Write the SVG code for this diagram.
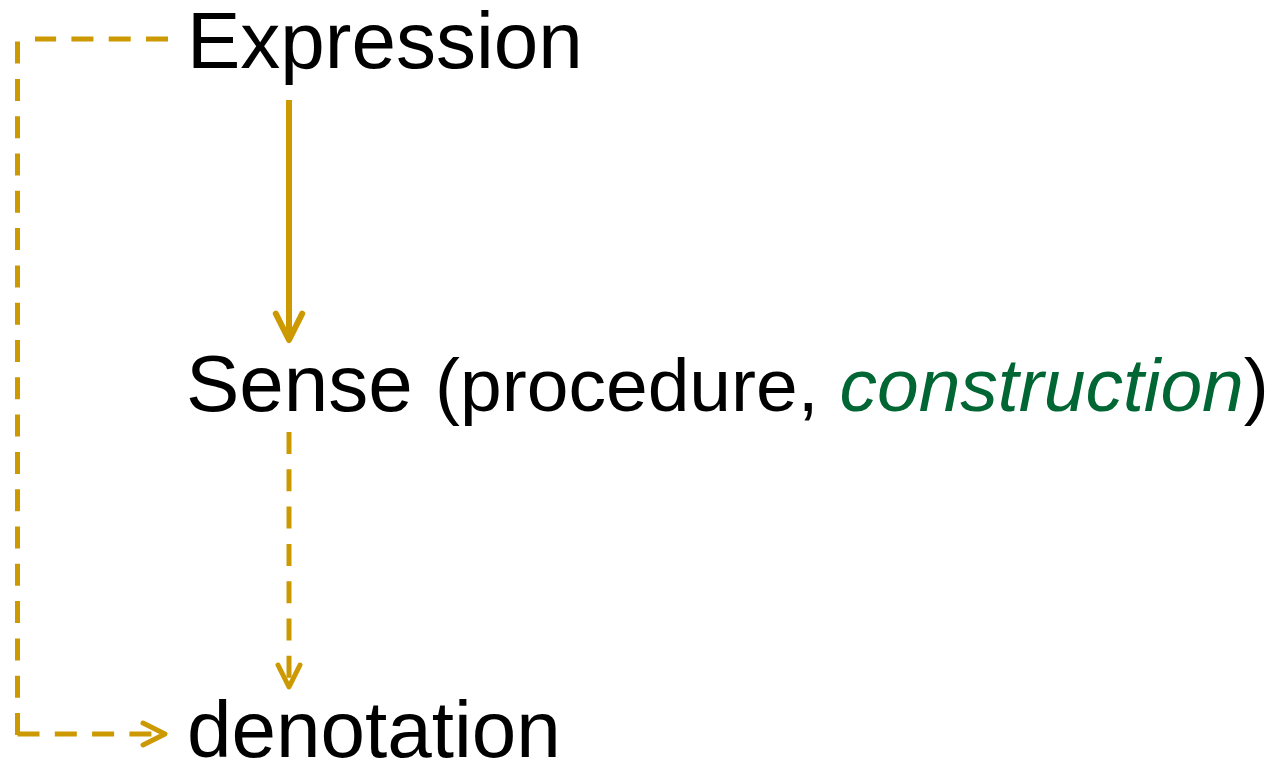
<svg xmlns="http://www.w3.org/2000/svg" width="1285" height="761" viewBox="0 0 1285 761">
  <style>
    .lbl { font-family: "Liberation Sans", Arial, Helvetica, sans-serif; fill: #000000; }
    .big { font-size: 80px; }
    .small { font-size: 75px; }
    .green { fill: #006633; font-style: italic; }
    .conn { fill: none; stroke: #CC9900; stroke-linecap: butt; }
    .dash { stroke-width: 5; stroke-dasharray: 22 15.3; }
    .solid { stroke-width: 6; }
  </style>
  <defs>
    <marker id="chev" viewBox="-6 -4 8 8" refX="0" refY="0" markerWidth="8" markerHeight="8" markerUnits="strokeWidth" orient="auto" overflow="visible">
      <path d="M-4.4,-2.2 L0,0 L-4.4,2.2" fill="none" stroke="#CC9900" stroke-width="1" stroke-linecap="round" stroke-linejoin="round"/>
    </marker>
  </defs>
  <rect x="0" y="0" width="1285" height="761" fill="#ffffff"/>
  <g id="connectors">
    <line class="conn dash" x1="168" y1="39" x2="35" y2="39"/>
    <line class="conn dash" x1="17.5" y1="735" x2="17.5" y2="40"/>
    <line class="conn dash" x1="17.5" y1="734" x2="165" y2="734" marker-end="url(#chev)"/>
    <line class="conn solid" x1="289" y1="100" x2="289" y2="340" marker-end="url(#chev)"/>
    <line class="conn dash" x1="289" y1="432" x2="289" y2="687" marker-end="url(#chev)"/>
  </g>
  <g id="node-expression">
    <text class="lbl big" x="187" y="68">Expression</text>
  </g>
  <g id="node-sense">
    <text class="lbl big" x="186" y="411">Sense <tspan class="small">(procedure, </tspan><tspan class="small green">construction</tspan><tspan class="small">)</tspan></text>
  </g>
  <g id="node-denotation">
    <text class="lbl big" x="187" y="757">denotation</text>
  </g>
</svg>
